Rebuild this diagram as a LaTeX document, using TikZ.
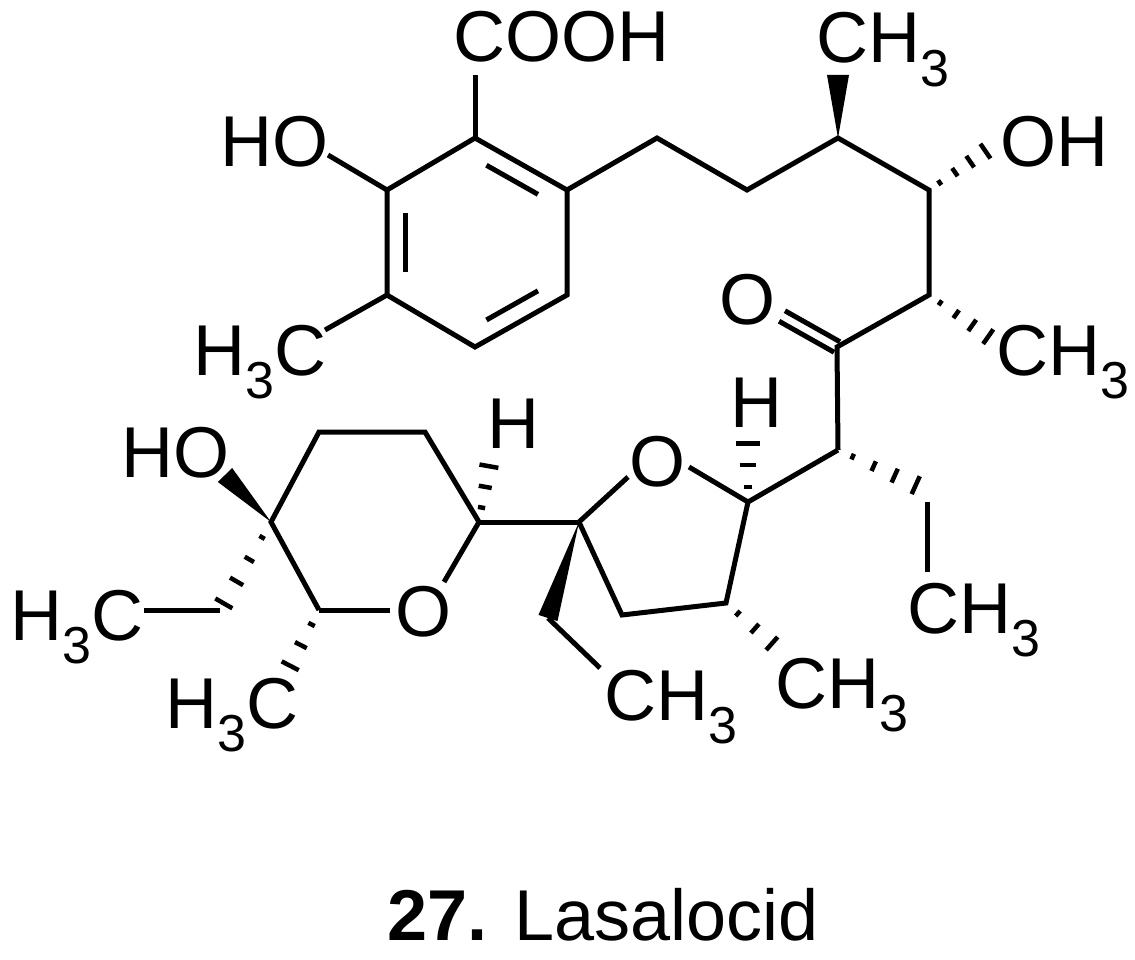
\documentclass[tikz,border=0pt]{standalone}
\usepackage{fontspec}
\setmainfont{Liberation Sans}
\usetikzlibrary{calc}
\newcommand\subs[1]{\raisebox{-0.32em}{\fontsize{52}{52}\selectfont #1}}
\newcommand\hashb[4]{%
 \foreach \k in {1,...,#3}{%
   \pgfmathsetmacro\t{(\k-0.3)/#3}\pgfmathsetmacro\w{#4*(\k-0.3)/#3+1.5}%
   \draw[line width=4.5pt] ($(#1)!\t!(#2)!\w pt!90:(#2)$) -- ($(#1)!\t!(#2)!\w pt!-90:(#2)$);}}
\newcommand\wedgeb[3]{\fill ($(#2)!#3!90:(#1)$) -- (#1) -- ($(#2)!#3!-90:(#1)$) -- cycle;}
\begin{document}
\begin{tikzpicture}[x=1pt,y=-1pt,
  bond/.style={line width=5pt},
  lab/.style={inner sep=0pt,anchor=base west,font=\fontsize{72}{80}\selectfont}]
\useasboundingbox (0,0) rectangle (1135,960);
% benzene
\coordinate (A) at (475,138); \coordinate (B) at (567,190); \coordinate (C) at (567,295);
\coordinate (D) at (475,347); \coordinate (E) at (387,295); \coordinate (F) at (387,190);
\coordinate (Rc) at (477,243);
\draw[bond] (A)--(B)--(C)--(D)--(E)--(F)--cycle;
\draw[bond] ($(A)!0.15!(B)!0.2!(Rc)$) -- ($(B)!0.15!(A)!0.2!(Rc)$);
\draw[bond] ($(E)!0.15!(F)!0.2!(Rc)$) -- ($(F)!0.15!(E)!0.2!(Rc)$);
\draw[bond] ($(C)!0.15!(D)!0.2!(Rc)$) -- ($(D)!0.15!(C)!0.2!(Rc)$);
\node[lab] (cooh) at (453,62) {COOH};
\coordinate (cooht) at (475,75);
\draw[bond] (A)--(cooht);
\node[lab] (ho1) at (220,167) {HO};
\coordinate (ho1e) at (328,155);
\draw[bond] (F)--(ho1e);
\node[lab] (me1) at (193,375) {H\subs{3}C};
\coordinate (me1e) at (325,330);
\draw[bond] (E)--(me1e);
% chain
\coordinate (P1) at (657,138); \coordinate (P2) at (747,190); \coordinate (P3) at (838,138);
\coordinate (P4) at (929,190); \coordinate (P5) at (929,295); \coordinate (P6) at (837,347);
\coordinate (P7) at (838,450);
\draw[bond] (B)--(P1)--(P2)--(P3)--(P4)--(P5)--(P6)--(P7);
\coordinate (me2e) at (838,75);
\wedgeb{P3}{me2e}{11pt}
\node[lab] (me2) at (816,63) {CH\subs{3}};
\coordinate (oh2e) at (990,148);
\hashb{P4}{oh2e}{4}{8}
\node[lab] (oh2) at (1000,167) {OH};
\coordinate (me3e) at (993,340);
\hashb{P5}{me3e}{4}{8}
\node[lab] (me3) at (996,375) {CH\subs{3}};
\node[lab,anchor=center] (ok) at (747,300) {O};
\coordinate (oke) at (782,316);
\draw[bond] ($(P6)!6pt!90:(oke)$) -- ($(oke)!6pt!-90:(P6)$);
\draw[bond] ($(P6)!6pt!-90:(oke)$) -- ($(oke)!6pt!90:(P6)$);
% ethyl on P7
\coordinate (Et1) at (927,502);
\coordinate (Et1s) at (922,488);
\hashb{P7}{Et1s}{4}{9}
\coordinate (Et2e) at (927,572);
\draw[bond] (Et1)--(Et2e);
\node[lab] (me4) at (907,633) {CH\subs{3}};
% THF ring
\coordinate (Sp) at (579,522); \coordinate (C5f) at (748,502);
\coordinate (C4f) at (726,603); \coordinate (C3f) at (622,615);
\node[lab,anchor=center] (Of) at (657,462) {O};
\coordinate (Ofa) at (628,477); \coordinate (Ofb) at (689,467);
\draw[bond] (Sp)--(Ofa); \draw[bond] (Ofb)--(C5f);
\draw[bond] (P7)--(C5f)--(C4f)--(C3f)--(Sp);
\coordinate (Hfe) at (748,437);
\hashb{C5f}{Hfe}{3}{12}
\node[lab] (Hf) at (730,427) {H};
\coordinate (Me5e) at (777,648);
\hashb{C4f}{Me5e}{3}{8}
\node[lab] (me5) at (775,708) {CH\subs{3}};
\coordinate (EtS) at (548,618);
\wedgeb{Sp}{EtS}{10pt}
\coordinate (EtSe) at (600,668);
\draw[bond] (EtS)--(EtSe);
\node[lab] (me6) at (604,720) {CH\subs{3}};
% pyran
\coordinate (C5) at (271,522); \coordinate (C4) at (319,432); \coordinate (C3) at (425,432);
\coordinate (C2) at (479,522); \coordinate (C6) at (319,610);
\node[lab,anchor=center] (Op) at (423,612) {O};
\coordinate (Opa) at (444,582); \coordinate (Opb) at (390,610);
\draw[bond] (C6)--(C5)--(C4)--(C3)--(C2)--(Opa); \draw[bond] (Opb)--(C6);
\draw[bond] (C2)--(Sp);
\coordinate (Hpe) at (490,460);
\hashb{C2}{Hpe}{3}{9}
\node[lab] (Hp) at (487,448) {H};
\coordinate (ho3e) at (225,475);
\wedgeb{C5}{ho3e}{10pt}
\node[lab] (ho3) at (121,477) {HO};
\coordinate (Mp1) at (220,610);
\hashb{C5}{Mp1}{4}{9}
\coordinate (Mp1e) at (144,610);
\draw[bond] (Mp1)--(Mp1e);
\node[lab] (me7) at (10,640) {H\subs{3}C};
\coordinate (Mp2) at (287,672);
\hashb{C6}{Mp2}{3}{9}
\node[lab] (me8) at (165,728) {H\subs{3}C};
\node[lab,anchor=base] (title) at (603,940) {\textbf{27.} Lasalocid};
\end{tikzpicture}
\end{document}
